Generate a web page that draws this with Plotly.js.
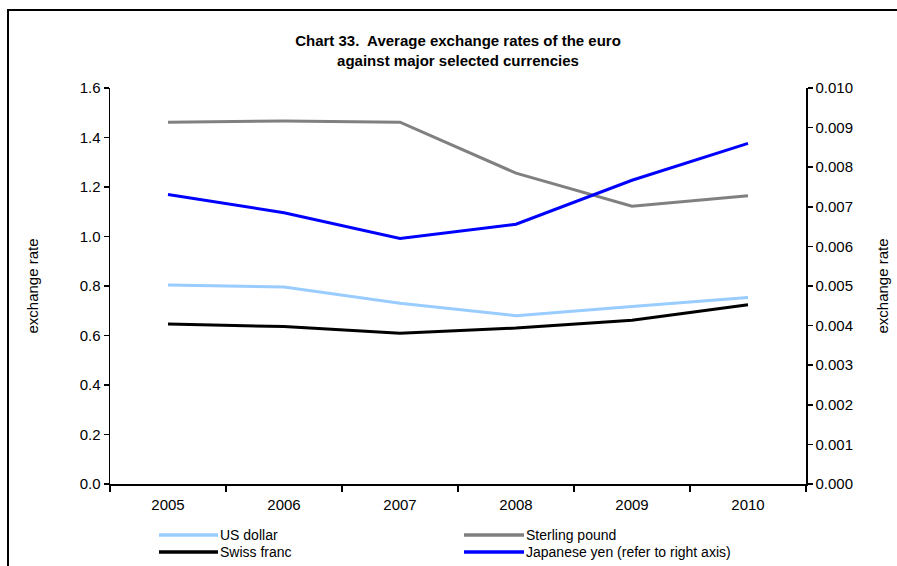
<!DOCTYPE html>
<html>
<head>
<meta charset="utf-8">
<script src="https://cdn.plot.ly/plotly-3.0.1.min.js"></script>
<style>
  html, body { margin: 0; padding: 0; background: #fff; }
  #wrap { position: relative; width: 897px; height: 566px; }
  #chart { width: 897px; height: 566px; }
  #frame { position: absolute; left: 7px; top: 9px; width: 900px; height: 570px;
           border-left: 2px solid #000; border-top: 2px solid #000; pointer-events: none; }
</style>
</head>
<body>
<div id="wrap">
  <div id="chart"></div>
  <div id="frame"></div>
</div>
<script>
const years = ['2005', '2006', '2007', '2008', '2009', '2010'];
const usDollar = [0.804, 0.796, 0.730, 0.680, 0.717, 0.754];
const sterlingPound = [1.462, 1.467, 1.462, 1.256, 1.122, 1.165];
const swissFranc = [0.646, 0.636, 0.609, 0.630, 0.662, 0.724];
const japaneseYen = [0.00731, 0.00685, 0.00620, 0.00656, 0.00767, 0.00860];
const leftTicks = [0, 0.2, 0.4, 0.6, 0.8, 1.0, 1.2, 1.4, 1.6];
const rightTicks = [0, 0.001, 0.002, 0.003, 0.004, 0.005, 0.006, 0.007, 0.008, 0.009, 0.010];
const seriesNames = ['US dollar', 'Sterling pound', 'Swiss franc', 'Japanese yen (refer to right axis)'];
const seriesColors = ['#99CCFF', '#808080', '#000000', '#0000FF'];

const FONT = 'Liberation Sans, Arial, sans-serif';
const FS = 15;
const LFS = 14;

const seriesData = [usDollar, sterlingPound, swissFranc, japaneseYen];
const traces = seriesData.map((vals, i) => ({
  x: years, y: vals, name: seriesNames[i], type: 'scatter', mode: 'lines',
  yaxis: i === 3 ? 'y2' : 'y',
  line: { color: seriesColors[i], width: 3 },
  showlegend: false
}));

// Plot area in pixels
const PX0 = 110, PX1 = 806, PY0 = 88, PY1 = 484;
const px2x = p => (p - PX0) / (PX1 - PX0);
const py2y = p => (PY1 - p) / (PY1 - PY0);

// Legend layout (2 columns x 2 rows), manual
const legendPos = [
  { sx: 159, tx: 220, y: 535 },
  { sx: 464, tx: 526, y: 535 },
  { sx: 159, tx: 220, y: 552 },
  { sx: 464, tx: 526, y: 552 }
];
const shapes = legendPos.map((p, i) => ({
  type: 'line', xref: 'paper', yref: 'paper',
  x0: px2x(p.sx), x1: px2x(p.tx - 2), y0: py2y(p.y), y1: py2y(p.y),
  line: { color: seriesColors[i], width: 3.5 }
}));
const annotations = legendPos.map((p, i) => ({
  xref: 'paper', yref: 'paper', x: px2x(p.tx - 1), y: py2y(p.y),
  xanchor: 'left', yanchor: 'middle', showarrow: false,
  borderpad: 0,
  text: seriesNames[i], font: { family: FONT, size: LFS, color: '#000' }
}));

const axisCommon = {
  showline: true, linecolor: '#000', linewidth: 1.5,
  ticks: 'outside', ticklen: 5, tickcolor: '#000', tickwidth: 1.5,
  showgrid: false, zeroline: false,
  tickfont: { family: FONT, size: FS, color: '#000' }
};

const layout = {
  width: 897, height: 566,
  margin: { l: 110, r: 91, t: 88, b: 82, autoexpand: false },
  paper_bgcolor: 'rgba(0,0,0,0)',
  plot_bgcolor: 'rgba(0,0,0,0)',
  font: { family: FONT, size: FS, color: '#000' },
  title: {
    text: '<b>Chart 33.  Average exchange rates of the euro<br>against major selected currencies</b>',
    font: { family: FONT, size: FS, color: '#000' },
    x: 0.5, xref: 'paper', xanchor: 'center',
    y: 1 - 46 / 566, yref: 'container', yanchor: 'middle'
  },
  xaxis: Object.assign({}, axisCommon, {
    type: 'category', range: [-0.5, 5.5], tickson: 'boundaries', ticklen: 6,
    ticklabelstandoff: 6
  }),
  yaxis: Object.assign({}, axisCommon, {
    range: [0, 1.6], tickvals: leftTicks, tickformat: '.1f',
    title: { text: 'exchange rate', font: { family: FONT, size: FS }, standoff: 37 }
  }),
  yaxis2: Object.assign({}, axisCommon, {
    range: [0, 0.010], tickvals: rightTicks, tickformat: '.3f',
    overlaying: 'y', side: 'right',
    title: { text: 'exchange rate', font: { family: FONT, size: FS }, standoff: 25 }
  }),
  showlegend: false,
  shapes: shapes,
  annotations: annotations
};

Plotly.newPlot('chart', traces, layout, { displayModeBar: false, staticPlot: true });
</script>
</body>
</html>
